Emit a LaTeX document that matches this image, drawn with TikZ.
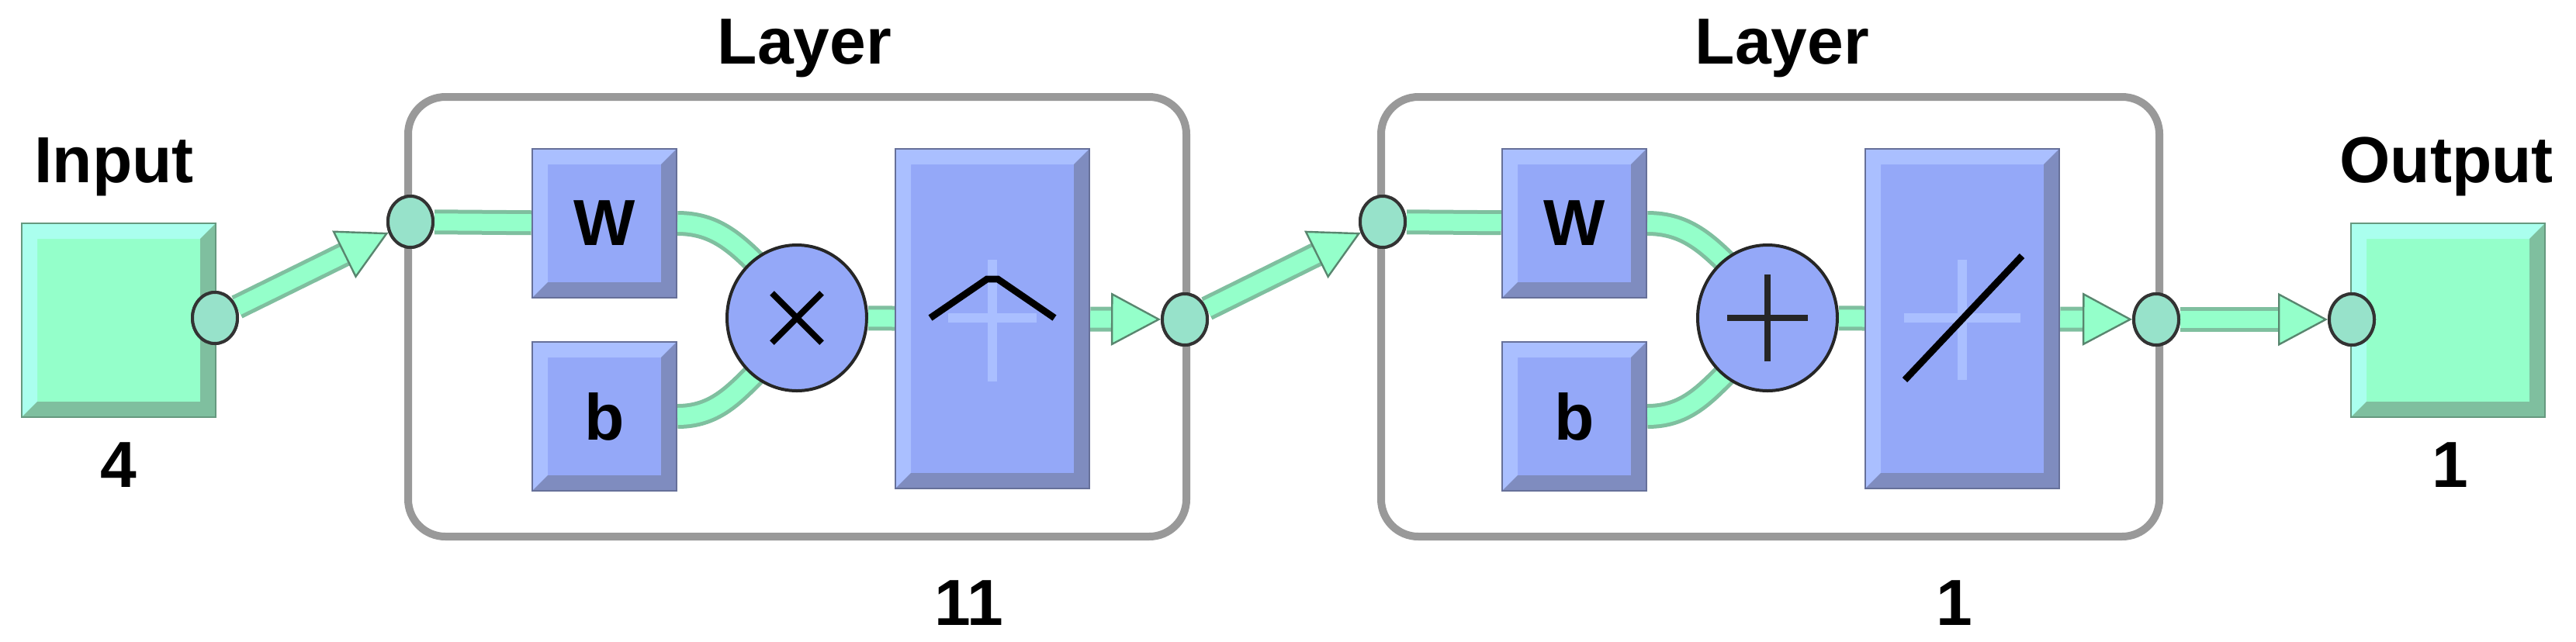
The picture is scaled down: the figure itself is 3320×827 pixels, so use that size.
\documentclass[tikz,border=0pt]{standalone}
\usepackage{fontspec}
\setmainfont{Liberation Sans}
\usetikzlibrary{arrows.meta,shapes.geometric}
\definecolor{gfill}{HTML}{94FFCA}
\definecolor{gdark}{HTML}{7FBF9F}
\definecolor{glight}{HTML}{AAFFEE}
\definecolor{bfill}{HTML}{94A8F8}
\definecolor{bdark}{HTML}{7F8CBF}
\definecolor{blight}{HTML}{AABFFF}
\definecolor{lay}{HTML}{999999}
\tikzset{
  bevel/.style n args={3}{fill=#1,path picture={
    \fill[#2] (path picture bounding box.south west) -- (path picture bounding box.north west) -- (path picture bounding box.north east)
      -- ([xshift=-5pt,yshift=-5pt]path picture bounding box.north east) -- ([xshift=5pt,yshift=-5pt]path picture bounding box.north west)
      -- ([xshift=5pt,yshift=5pt]path picture bounding box.south west) -- cycle;
    \fill[#3] (path picture bounding box.south west) -- (path picture bounding box.south east) -- (path picture bounding box.north east)
      -- ([xshift=-5pt,yshift=-5pt]path picture bounding box.north east) -- ([xshift=-5pt,yshift=5pt]path picture bounding box.south east)
      -- ([xshift=5pt,yshift=5pt]path picture bounding box.south west) -- cycle;}},
}
\begin{document}
\begin{tikzpicture}[x=0.25pt,y=-0.25pt,
  lbl/.style={font=\bfseries\fontsize{21}{25}\selectfont,inner sep=0pt},
  io/.style={bevel={gfill}{glight}{gdark},draw=gdark!80!black,line width=0.6pt,minimum width=62.5pt,minimum height=62.5pt,inner sep=0pt},
  blk/.style={bevel={bfill}{blight}{bdark},draw=bdark!80!black,line width=0.6pt,inner sep=0pt,font=\bfseries\fontsize{21}{25}\selectfont},
  layer/.style={draw=lay,line width=2.5pt,rounded corners=12pt,minimum width=250.75pt,minimum height=141.75pt,inner sep=0pt},
  port/.style={ellipse,draw=black!80,line width=1pt,fill=glight!55!gdark,minimum width=14.5pt,minimum height=16.5pt,inner sep=0pt},
  sum/.style={ellipse,draw=black!85,line width=1pt,fill=bfill,minimum width=45pt,minimum height=47pt,inner sep=0pt},
  wire/.style={draw=gfill,line width=5.5pt,preaction={draw=gdark,line width=8pt}},
  tip/.style={draw=gfill,line width=0.6pt,-{Triangle[length=16pt,width=17pt,fill=gfill,color=gdark!70!black,line width=0.6pt]}},
]
\useasboundingbox (0,0) rectangle (3320,827);
% layers
\node[layer] (L1) at (1027.5,408.5) {};
\node[layer] (L2) at (2281.5,408.5) {};
\node[lbl] at (1037,62) {Layer};
\node[lbl] at (2297,62) {Layer};
\node[lbl] at (1249,778) {11};
\node[lbl] at (2519,778) {1};
% input / output
\node[io] (in) at (153,413) {};
\node[io] (out) at (3155,413) {};
\node[lbl] at (147,215) {Input};
\node[lbl] at (3153,215) {Output};
\node[lbl] at (153,600) {4};
\node[lbl] at (3158,600) {1};
% blocks
\node[blk,minimum width=46.5pt,minimum height=48pt] (W1) at (779,288) {W};
\node[blk,minimum width=46.5pt,minimum height=48pt] (b1) at (779,537) {b};
\node[blk,minimum width=62.5pt,minimum height=109.5pt] (f1) at (1279,411) {};
\node[blk,minimum width=46.5pt,minimum height=48pt] (W2) at (2029,288) {W};
\node[blk,minimum width=46.5pt,minimum height=48pt] (b2) at (2029,537) {b};
\node[blk,minimum width=62.5pt,minimum height=109.5pt] (f2) at (2529,411) {};
% ports
\node[port] (pin) at (277,410) {};
\node[port] (p1) at (529,286) {};
\node[port] (p1o) at (1527,412) {};
\node[port] (p2) at (1782,286) {};
\node[port] (p2o) at (2779,412) {};
\node[port] (pout) at (3031,412) {};
% curved wires
\draw[wire] (W1.east) to[out=0,in=135] (985,350);
\draw[wire] (b1.east) to[out=0,in=-135] (985,470);
\draw[wire] (W2.east) to[out=0,in=135] (2236,350);
\draw[wire] (b2.east) to[out=0,in=-135] (2236,470);
\node[sum] (m1) at (1027,410) {};
\node[sum] (s2) at (2278,410) {};
\draw[line width=2pt] (m1.center) +(-8pt,-8pt) -- +(8pt,8pt) +(-8pt,8pt) -- +(8pt,-8pt);
\draw[line width=2.2pt,black!85] (s2.center) +(-13pt,0) -- +(13pt,0) +(0,-14pt) -- +(0,14pt);
% straight wires
\draw[wire] (p1) -- (W1);
\draw[wire] (p2) -- (W2);
\draw[wire] (m1) -- (f1);
\draw[wire] (s2) -- (f2);
\draw[wire,shorten >=12pt] (pin) -- (p1);
\draw[wire,shorten >=12pt] (f1) -- (p1o);
\draw[wire,shorten >=12pt] (p1o) -- (p2);
\draw[wire,shorten >=12pt] (f2) -- (p2o);
\draw[wire,shorten >=12pt] (p2o) -- (pout);
\draw[tip] (pin) -- (p1);
\draw[tip] (f1) -- (p1o);
\draw[tip] (p1o) -- (p2);
\draw[tip] (f2) -- (p2o);
\draw[tip] (p2o) -- (pout);
\foreach \p in {pin,p1,p1o,p2,p2o,pout} \node[port] at (\p) {};
% transfer icons
\draw[blight,line width=3pt] (1279,335) -- (1279,492) (1222,410) -- (1336,410);
\draw[black,line width=2.2pt] (1199,410) -- (1272,360) -- (1286,360) -- (1359,410);
\draw[blight,line width=3pt] (2529,335) -- (2529,490) (2454,410) -- (2604,410);
\draw[black,line width=2.2pt] (2455,490) -- (2606,330);
\end{tikzpicture}
\end{document}
